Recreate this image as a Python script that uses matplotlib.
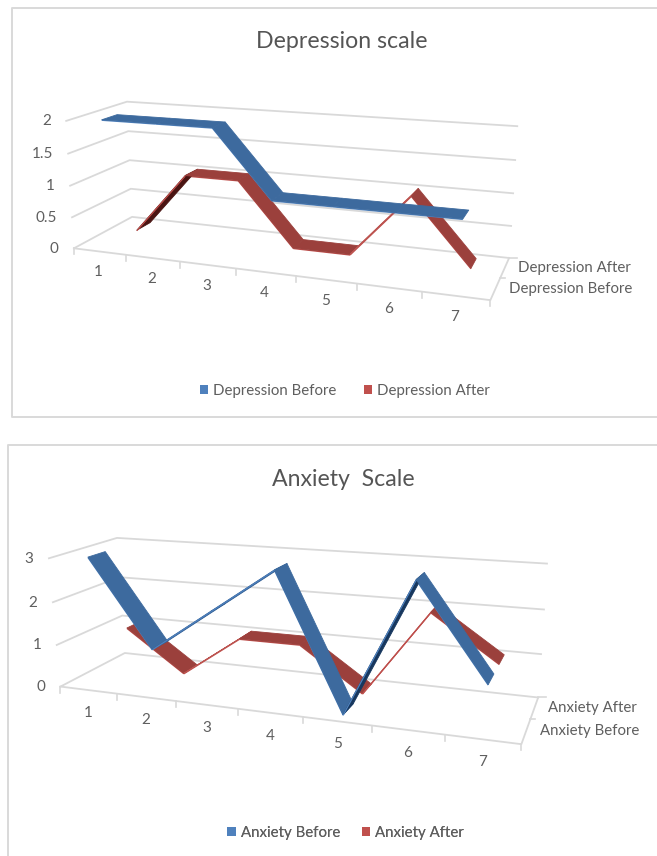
import numpy as np
import matplotlib
matplotlib.use("Agg")
import matplotlib.pyplot as plt
from matplotlib.patches import Patch, Polygon

plt.rcParams['font.family'] = ['Lato', 'DejaVu Sans']

W, H = 657, 856
categories = ['1', '2', '3', '4', '5', '6', '7']

dep_title = 'Depression scale'
dep_before = [2, 2, 2, 1, 1, 1, 1]
dep_after = [0, 1, 1, 0, 0, 1, 0]
dep_ticks = [0, 0.5, 1, 1.5, 2]
dep_tick_labels = ['0', '0.5', '1', '1.5', '2']
dep_names = ['Depression Before', 'Depression After']

anx_title = 'Anxiety  Scale'
anx_before = [3, 1, 2, 3, 0, 3, 1]
anx_after = [1, 0, 1, 1, 0, 2, 1]
anx_ticks = [0, 1, 2, 3]
anx_tick_labels = ['0', '1', '2', '3']
anx_names = ['Anxiety Before', 'Anxiety After']

GRID = '#D9D9D9'
TEXT = '#5F5F5F'
BLUE = dict(top='#3D6A9E', edge='#4F81BD', under='#17375E', thin='#2E5C92', legend='#4F81BD')
RED = dict(top='#9B403C', edge='#C0504D', under='#4A1412', thin='#BC5450', legend='#C0504D')


def calibrate(pairs):
    """Fit a 3D-to-pixel camera matrix from (world, pixel) pairs."""
    A, b = [], []
    for (x, y, z), (u, v) in pairs:
        A.append([x, y, z, 1, 0, 0, 0, 0, -u * x, -u * y, -u * z])
        A.append([0, 0, 0, 0, x, y, z, 1, -v * x, -v * y, -v * z])
        b += [u, v]
    p = np.linalg.lstsq(np.array(A, float), np.array(b, float), rcond=None)[0]
    P = np.append(p, 1).reshape(3, 4)

    def proj(x, y, z):
        h = P @ np.array([x, y, z, 1.0])
        return h[0] / h[2], h[1] / h[2]
    return proj


dep_view = [
    ((0, 2, 0), (66, 120.7)), ((0, 1.5, 0), (68.3, 152.7)), ((0, 1, 0), (70, 185.3)),
    ((0, .5, 0), (71.7, 216.7)), ((0, 0, 0), (74.3, 247.7)),
    ((0, 2, 1), (127.3, 102.3)), ((0, 1.5, 1), (128.3, 131.7)), ((0, 1, 1), (129.3, 160.3)),
    ((0, .5, 1), (130.7, 188.7)), ((0, 0, 1), (131.7, 216.7)),
    ((7, 2, 1), (517.3, 126)), ((7, 1.5, 1), (515, 160.3)), ((7, 1, 1), (513.3, 193.3)),
    ((7, .5, 1), (511.3, 226)), ((7, 0, 1), (509.3, 256.7)),
    ((1, 0, 0), (126.7, 255.7)), ((2, 0, 0), (180, 262)), ((3, 0, 0), (236, 269)),
    ((4, 0, 0), (295.7, 276)), ((5, 0, 0), (358, 284)), ((6, 0, 0), (421.7, 292.3)),
    ((7, 0, 0), (490, 300)),
]
anx_view = [
    ((0, 3, 0), (50.7, 557.3)), ((0, 2, 0), (53.3, 601.7)), ((0, 1, 0), (56, 644)),
    ((0, 0, 0), (60, 686.7)),
    ((0, 3, 1), (113.3, 539.3)), ((0, 2, 1), (121.7, 577.3)), ((0, 1, 1), (123.3, 615)),
    ((0, 0, 1), (125, 652.7)),
    ((7, 3, 1), (547.3, 564)), ((7, 2, 1), (544, 609.3)), ((7, 1, 1), (541.3, 654)),
    ((7, 0, 1), (538, 696.7)),
    ((1, 0, 0), (116.7, 694)), ((2, 0, 0), (175, 701.7)), ((3, 0, 0), (237.7, 709.3)),
    ((4, 0, 0), (304, 717.7)), ((5, 0, 0), (372.3, 726.7)), ((6, 0, 0), (444.3, 734.3)),
    ((7, 0, 0), (521, 743.3)),
]


def ribbon(ax, proj, values, z0, z1, col, zorder):
    for i in range(len(values) - 1):
        xa, xb = i + .5, i + 1.5
        va, vb = values[i], values[i + 1]
        pts = np.array([proj(xa, va, z0), proj(xb, vb, z0), proj(xb, vb, z1), proj(xa, va, z1)])
        x, y = pts[:, 0], pts[:, 1]
        area = .5 * np.sum(x * np.roll(y, -1) - y * np.roll(x, -1))
        if abs(area) < 200:
            face = col['thin']
        elif area > 0:
            face = col['under']
        else:
            face = col['top']
        ax.add_patch(Polygon(pts, closed=True, fc=face, ec=face, lw=.6,
                             zorder=zorder, joinstyle='round'))
        edge_z = zorder + .1 if area > 0 else zorder - .1
        ax.plot(x[:2], y[:2] + .5, color=col['edge'], lw=.9, zorder=edge_z,
                solid_capstyle='butt')


def panel(ax, proj, title, title_xy, before, after, ticks, tick_labels, names,
          legend_xy, col_gap, cat_off, z_off):
    for v in ticks:
        pts = [proj(0, v, 0), proj(0, v, 1), proj(7, v, 1)]
        ax.plot(*zip(*pts), color=GRID, lw=1.3, zorder=1)
    ax.plot(*zip(proj(0, 0, 0), proj(7, 0, 0), proj(7, 0, 1)), color=GRID, lw=1.3, zorder=1)
    for i in range(8):
        x, y = proj(i, 0, 0)
        ax.plot([x, x], [y, y + 6], color=GRID, lw=1.2, zorder=1)
    for z, L in [(.5, 5), (1, 8)]:
        x, y = proj(7, 0, z)
        ax.plot([x, x + L], [y, y], color=GRID, lw=1.2, zorder=1)
    for v, lab in zip(ticks, tick_labels):
        x, y = proj(0, v, 0)
        ax.text(x - 15.5, y + .5, lab, ha='right', va='center', fontsize=11, color=TEXT)
    for i, lab in enumerate(categories):
        x, y = proj(i + .5, 0, 0)
        ax.text(x + cat_off[0], y + cat_off[1], lab, ha='center', va='center', fontsize=11, color=TEXT)
    for z, lab in [(.25, names[0]), (.75, names[1])]:
        x, y = proj(7, 0, z)
        ax.text(x + z_off, y, lab, ha='left', va='center', fontsize=10.8, color=TEXT)
    ribbon(ax, proj, after, .64, .89, RED, 3)
    ribbon(ax, proj, before, .14, .39, BLUE, 4)
    ax.text(*title_xy, title, ha='center', va='center', fontsize=16.7, color='#555555')
    handles = [Patch(fc=BLUE['legend'], label=names[0]), Patch(fc=RED['legend'], label=names[1])]
    leg = ax.legend(handles=handles, ncol=2, frameon=False, loc='center',
                    bbox_to_anchor=legend_xy, bbox_transform=ax.transData,
                    fontsize=10.8, handlelength=.58, handleheight=.6, handletextpad=.3,
                    columnspacing=col_gap, labelcolor=TEXT, borderpad=0, borderaxespad=0)
    ax.add_artist(leg)


fig = plt.figure(figsize=(W / 100, H / 100), dpi=100)
ax = fig.add_axes([0, 0, 1, 1])
ax.set_xlim(0, W)
ax.set_ylim(H, 0)
ax.axis('off')

ax.plot([W, 11.5, 11.5, W], [416.5, 416.5, 7.5, 7.5], color=GRID, lw=1.4)
ax.plot([W, 7.5, 7.5], [445, 445, H], color=GRID, lw=1.4)

panel(ax, calibrate(dep_view), dep_title, (342, 41.5), dep_before, dep_after, dep_ticks,
      dep_tick_labels, dep_names, (344.5, 391), 1.83, (-1, 21), 13)
panel(ax, calibrate(anx_view), anx_title, (343, 479.5), anx_before, anx_after, anx_ticks,
      anx_tick_labels, anx_names, (345.5, 833), 1.45, (0, 23), 14)

fig.savefig('out.png', dpi=100)
